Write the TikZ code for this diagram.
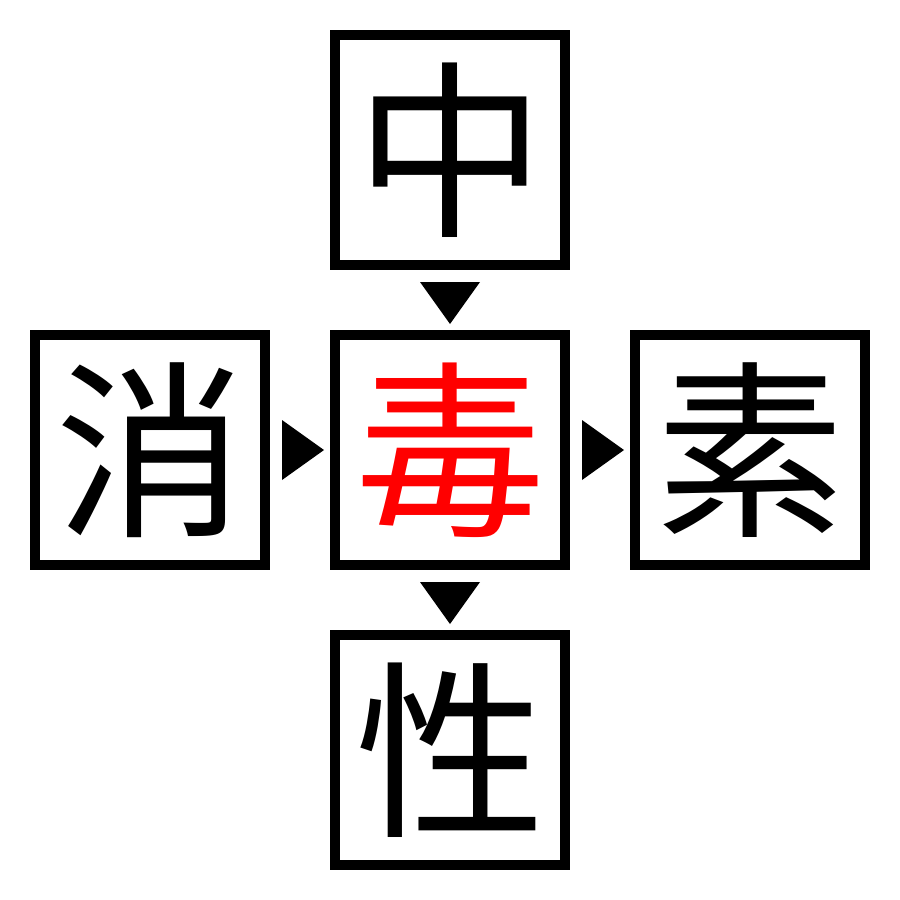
\documentclass[tikz,border=0pt]{standalone}
\usepackage{fontspec}
\newfontfamily\cjk{Noto Sans CJK JP}
\usepackage{xcolor}
\definecolor{keyred}{HTML}{ff0000}

\tikzset{
    charbox/.style = {draw = black, line width = 10pt, minimum size = 230pt, inner sep = 0pt,
        font = \cjk\fontsize{190pt}{190pt}\selectfont},
}

\begin{document}
\begin{tikzpicture}
        \useasboundingbox (0pt, 0pt) rectangle (900pt, -900pt);

        % Nodes
        \node [charbox] (top) at (450pt, -150pt) {中};
        \node [charbox, text = keyred] (mid) at (450pt, -450pt) {毒};
        \node [charbox] (left) at (150pt, -450pt) {消};
        \node [charbox] (right) at (750pt, -450pt) {素};
        \node [charbox] (bottom) at (450pt, -750pt) {性};

        % Arrows
        \fill ([yshift = -12pt]top.south) ++(-30pt, 0pt) -- ++(60pt, 0pt) -- ++(-30pt, -42pt) -- cycle;
        \fill ([yshift = -12pt]mid.south) ++(-30pt, 0pt) -- ++(60pt, 0pt) -- ++(-30pt, -42pt) -- cycle;
        \fill ([xshift = 12pt]left.east) ++(0pt, 30pt) -- ++(0pt, -60pt) -- ++(42pt, 30pt) -- cycle;
        \fill ([xshift = 12pt]mid.east) ++(0pt, 30pt) -- ++(0pt, -60pt) -- ++(42pt, 30pt) -- cycle;

    \end{tikzpicture}
\end{document}
